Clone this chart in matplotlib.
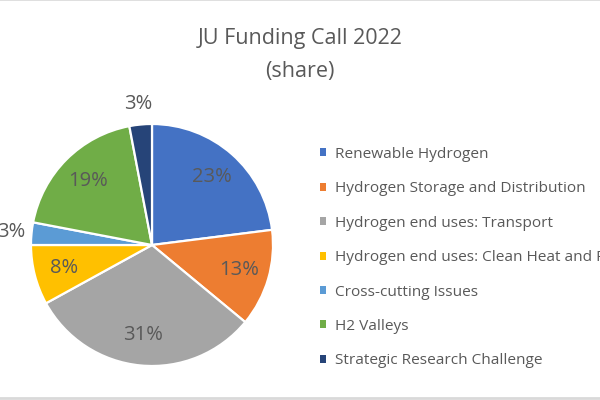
import numpy as np
import matplotlib
matplotlib.use("Agg")
import matplotlib.pyplot as plt
from matplotlib.patches import Patch
from matplotlib.lines import Line2D

# data
categories = ["Renewable Hydrogen",
              "Hydrogen Storage and Distribution",
              "Hydrogen end uses: Transport",
              "Hydrogen end uses: Clean Heat and Power",
              "Cross-cutting Issues",
              "H2 Valleys",
              "Strategic Research Challenge"]
shares = [23, 13, 31, 8, 3, 19, 3]
colors = ["#4472C4", "#ED7D31", "#A5A5A5", "#FFC000", "#5B9BD5", "#70AD47", "#264478"]

plt.rcParams['font.family'] = ['Open Sans', 'DejaVu Sans']
txt = "#595959"

fig = plt.figure(figsize=(6, 4), dpi=100)

# pie centre ~ (152, 245) px, radius ~121 px
ax = fig.add_axes([31 / 600, 34 / 400, 242 / 600, 242 / 400])
wedges, _, autotexts = ax.pie(shares, colors=colors, startangle=90, counterclock=False,
                              autopct='%1.0f%%', pctdistance=0.75,
                              wedgeprops=dict(edgecolor='white', linewidth=1.6),
                              textprops=dict(color=txt, fontsize=14.5))
ax.set_xlim(-1, 1)
ax.set_ylim(-1, 1)
ax.set_aspect('equal')

# small slices get their label outside the pie
for w, t, v in zip(wedges, autotexts, shares):
    if v < 5:
        ang = np.deg2rad((w.theta1 + w.theta2) / 2)
        t.set_position((1.17 * np.cos(ang), 1.17 * np.sin(ang)))

fig.text(0.5, 0.903, "JU Funding Call 2022", ha='center', va='center', fontsize=15.5, color=txt)
fig.text(0.5, 0.822, "(share)", ha='center', va='center', fontsize=15.5, color=txt)

handles = [Patch(facecolor=c, edgecolor='none') for c in colors]
leg = fig.legend(handles, categories, loc='upper left', bbox_to_anchor=(0.533, 0.633),
                 frameon=False, fontsize=11.1, labelcolor=txt,
                 handlelength=0.42, handleheight=0.42, handletextpad=0.55,
                 labelspacing=1.26, borderaxespad=0, borderpad=0)

# chart border lines (top and bottom)
fig.add_artist(Line2D([0, 1], [0.999, 0.999], color="#D9D9D9", lw=1.2, transform=fig.transFigure))
fig.add_artist(Line2D([0, 1], [0.004, 0.004], color="#D9D9D9", lw=2, transform=fig.transFigure))

fig.savefig("out.png", dpi=100)
